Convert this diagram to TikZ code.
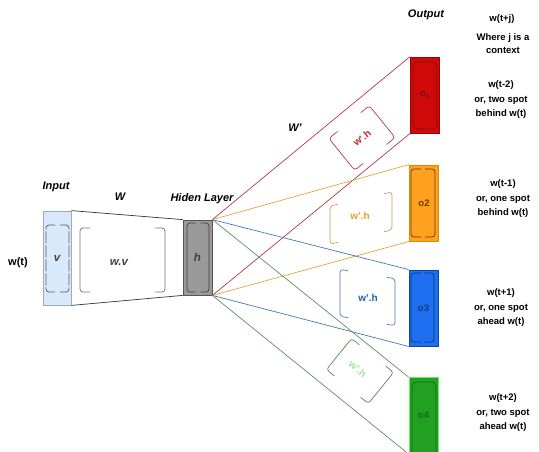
\documentclass[tikz,border=0pt]{standalone}
\usepackage{fontspec}
\setmainfont{Liberation Sans}

% palette
\definecolor{inFill}{HTML}{DAE8FC}
\definecolor{inLine}{HTML}{9AABC0}
\definecolor{hidFill}{HTML}{999999}
\definecolor{hidLine}{HTML}{555555}
\definecolor{redFill}{HTML}{D00A0A}
\definecolor{redLine}{HTML}{A30000}
\definecolor{redDark}{HTML}{7E0A0A}
\definecolor{redEdge}{HTML}{B03A48}
\definecolor{redText}{HTML}{C0282D}
\definecolor{orFill}{HTML}{FFA01E}
\definecolor{orLine}{HTML}{E08A00}
\definecolor{orDark}{HTML}{6A3A08}
\definecolor{orEdge}{HTML}{E8A33A}
\definecolor{orBrk}{HTML}{C89A5A}
\definecolor{orText}{HTML}{E3A02A}
\definecolor{blFill}{HTML}{1E6FF0}
\definecolor{blLine}{HTML}{0A4A9A}
\definecolor{blDark}{HTML}{0A3A80}
\definecolor{blEdge}{HTML}{3D7AB8}
\definecolor{blBrk}{HTML}{4A7AB5}
\definecolor{blText}{HTML}{2060B0}
\definecolor{grFill}{HTML}{22A022}
\definecolor{grLine}{HTML}{66EE66}
\definecolor{grDark}{HTML}{166A16}
\definecolor{grEdge}{HTML}{5F8F5F}
\definecolor{grBrk}{HTML}{5F7F5F}
\definecolor{grText}{HTML}{98E898}

% a pair of rounded brackets [ ] around the local origin
% #1 style, #2 half width, #3 half height, #4 arm length
\newcommand\brkpair[4]{%
  \draw[brk,#1] ({-#2+#4},{-#3}) -- ({-#2},{-#3}) -- ({-#2},{#3}) -- ({-#2+#4},{#3});
  \draw[brk,#1] ({#2-#4},{-#3}) -- ({#2},{-#3}) -- ({#2},{#3}) -- ({#2-#4},{#3});}

\begin{document}
\begin{tikzpicture}[x=1pt,y=-1pt,
  lbl/.style={font=\bfseries\itshape\fontsize{11}{13}\selectfont, inner sep=0pt},
  side/.style={font=\bfseries\fontsize{9.5}{14.5}\selectfont, align=center, inner sep=0pt},
  inner/.style={font=\bfseries\itshape\fontsize{11.5}{13}\selectfont, text=black!75},
  layerbox/.style={draw, line width=0.8pt, inner sep=0pt},
  outbox/.style={draw, line width=0.9pt, minimum width=29pt, minimum height=76pt,
    inner sep=0pt, font=\bfseries\fontsize{9.5}{11}\selectfont},
  wh/.style={font=\bfseries\fontsize{10}{12}\selectfont, inner sep=0pt},
  brk/.style={line width=0.7pt, rounded corners=3pt},
  edge/.style={line width=0.7pt},
]
\clip (0,0) rectangle (539,451);

% layers
\node[layerbox, fill=inFill, draw=inLine, minimum width=28pt, minimum height=94pt,
      inner] (inp) at (57,258) {v};
\node[layerbox, fill=hidFill, draw=hidLine, minimum width=29pt, minimum height=75pt,
      inner] (hid) at (197.5,257.5) {h};

% output units
\node[outbox, fill=redFill, draw=redLine, text=redDark] (o1) at (425,95) {o\textsubscript{1}};
\node[outbox, fill=orFill, draw=orLine, text=orDark] (o2) at (424,203) {o2};
\node[outbox, fill=blFill, draw=blLine, text=blDark] (o3) at (423.5,308) {o3};
\node[outbox, fill=grFill, draw=grLine, text=grDark] (o4) at (423.5,415.5) {o4};

% projection W
\draw[edge, black!80] (inp.north east) -- (hid.north west);
\draw[edge, black!80] (inp.south east) -- (hid.south west);
\node[inner] (wv) at (119,262) {w.v};

% output weights W'
\draw[edge, redEdge] (hid.north east) -- (o1.north west);
\draw[edge, redEdge] (hid.south east) -- (o1.south west);
\draw[edge, orEdge] (hid.north east) -- (o2.north west);
\draw[edge, orEdge] (hid.south east) -- (o2.south west);
\draw[edge, blEdge] (hid.north east) -- (o3.north west);
\draw[edge, blEdge] (hid.south east) -- (o3.south west);
\draw[edge, grEdge] (hid.north east) -- (o4.north west);
\draw[edge, grEdge] (hid.south east) -- (o4.south west);

% inner outlines of layers
\begin{scope}[shift={(57.5,258.5)}] \brkpair{black!65,dash pattern=on 12pt off 2pt}{11.5}{33.5}{9} \end{scope}
\begin{scope}[shift={(198,257.5)}] \brkpair{black!75}{11}{34.5}{8.5} \end{scope}
\begin{scope}[shift={(122.5,260)}] \brkpair{black!55}{42.5}{32}{10} \end{scope}

% inner outlines of output units
\draw[brk, redDark, rounded corners=4pt] (413,62) rectangle (437,129);
\begin{scope}[shift={(423,203)}] \brkpair{orDark}{12}{34}{10} \end{scope}
\begin{scope}[shift={(422.5,307.5)}] \brkpair{blDark}{11.5}{34.5}{10} \end{scope}
\draw[brk, grDark, rounded corners=4pt] (412,382) rectangle (436,460);

% w'.h blocks
\begin{scope}[shift={(362,138)}, rotate=39]
  \brkpair{redEdge}{26}{20.5}{11}
  \node[wh, text=redText, rotate=39] (wh1) at (0,0) {w'.h};
\end{scope}
\begin{scope}[shift={(361,218)}, yslant=0.23]
  \brkpair{orBrk}{31}{19}{8}
\end{scope}
\node[wh, text=orText] (wh2) at (360,216) {w'.h};
\begin{scope}[shift={(367.5,297.5)}, yslant=-0.17]
  \brkpair{blBrk}{27.5}{23.5}{8}
\end{scope}
\node[wh, text=blText] (wh3) at (368,298) {w'.h};
\begin{scope}[shift={(360,371)}, rotate=-39]
  \brkpair{grBrk}{27}{20}{10}
  \node[wh, text=grText, rotate=-39] (wh4) at (-3,0) {w'.h};
\end{scope}

% titles
\node[lbl] (tin) at (56,187) {Input};
\node[lbl] (tw) at (120,197) {W};
\node[lbl] (thid) at (202,199) {Hiden Layer};
\node[lbl] (twp) at (295,128) {W'};
\node[lbl] (tout) at (426,15) {Output};
\node[font=\bfseries\fontsize{11}{13}\selectfont] (wt) at (18,263) {w(t)};

% context words
\node[side] (ctx) at (502,19) {w(t+j)};
\node[side, font=\bfseries\fontsize{9.5}{13}\selectfont] (ctxd) at (503,44) {Where j is a\\context};
\node[side] (c1) at (501,100) {w(t-2)\\or, two spot\\behind w(t)};
\node[side] (c2) at (503,199) {w(t-1)\\or, one spot\\behind w(t)};
\node[side] (c3) at (501,308) {w(t+1)\\or, one spot\\ahead w(t)};
\node[side] (c4) at (503,413) {w(t+2)\\or, two spot\\ahead w(t)};
\end{tikzpicture}
\end{document}
